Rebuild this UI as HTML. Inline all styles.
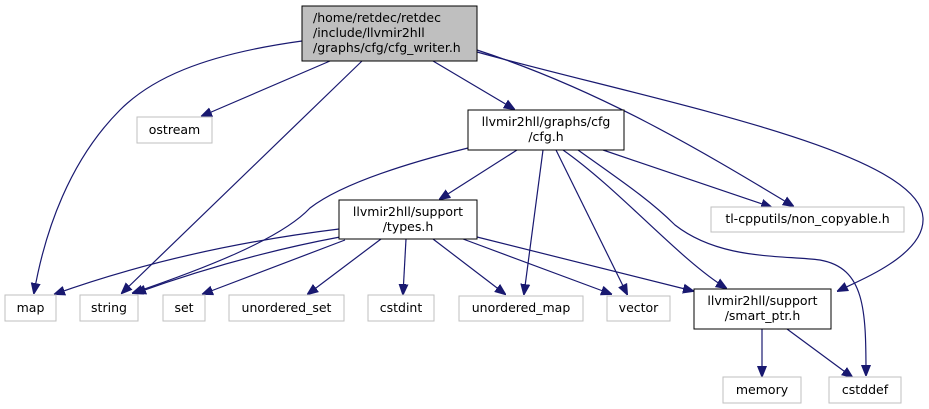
<!DOCTYPE html>
<html><head><meta charset="utf-8"><style>
html,body{margin:0;padding:0;background:#fff;}
svg{display:block;font-family:"DejaVu Sans","Liberation Sans",sans-serif;font-size:12.5px;}
.n{fill:#fff;stroke:#bfbfbf;stroke-width:1;}
.m{fill:#fff;stroke:#000;stroke-width:1;}
.e{fill:none;stroke:#191970;stroke-width:1.2;}
</style></head><body>
<svg width="929" height="409" viewBox="0 0 929 409">
<defs><marker id="a" viewBox="0 0 10 10" refX="9" refY="5" markerWidth="11" markerHeight="11" markerUnits="userSpaceOnUse" orient="auto"><path d="M0,1 L10,5 L0,9 z" fill="#191970" stroke="#191970"/></marker></defs>
<g>
<path class="e" marker-end="url(#a)" d="M302,41 C200,55 150,80 120,110 C70,160 45,230 34,293"/>
<path class="e" marker-end="url(#a)" d="M330,61 L202,116"/>
<path class="e" marker-end="url(#a)" d="M362,61 L122,293"/>
<path class="e" marker-end="url(#a)" d="M433,61 L514,109"/>
<path class="e" marker-end="url(#a)" d="M477,50 C600,90 700,150 793,206"/>
<path class="e" marker-end="url(#a)" d="M477,52 C650,100 920,150 923,218 C925,255 860,280 838,291"/>
<path class="e" marker-end="url(#a)" d="M517,150 L440,199"/>
<path class="e" marker-end="url(#a)" d="M468,148 C400,165 340,185 310,208 C280,240 200,270 133,293"/>
<path class="e" marker-end="url(#a)" d="M543,150 L524,294"/>
<path class="e" marker-end="url(#a)" d="M556,150 L627,294"/>
<path class="e" marker-end="url(#a)" d="M563,150 C620,190 680,260 726,288"/>
<path class="e" marker-end="url(#a)" d="M603,150 L771,207"/>
<path class="e" marker-end="url(#a)" d="M578,150 C620,180 650,200 675,225 C720,260 780,255 820,260 C865,268 866,310 866,375"/>
<path class="e" marker-end="url(#a)" d="M339,229 C250,240 150,260 55,294"/>
<path class="e" marker-end="url(#a)" d="M340,237 C270,250 200,270 136,293"/>
<path class="e" marker-end="url(#a)" d="M345,240 L203,294"/>
<path class="e" marker-end="url(#a)" d="M381,239 L308,294"/>
<path class="e" marker-end="url(#a)" d="M406,239 L403,294"/>
<path class="e" marker-end="url(#a)" d="M433,239 L505,294"/>
<path class="e" marker-end="url(#a)" d="M463,239 L611,294"/>
<path class="e" marker-end="url(#a)" d="M477,237 L693,291"/>
<path class="e" marker-end="url(#a)" d="M762,329 L762,376"/>
<path class="e" marker-end="url(#a)" d="M787,329 L852,377"/>
</g>
<g><rect x="302" y="6" width="175" height="55" fill="#bfbfbf" stroke="#000"/>
<text x="313" y="22">/home/retdec/retdec</text><text x="313" y="37">/include/llvmir2hll</text><text x="313" y="52">/graphs/cfg/cfg_writer.h</text></g>
<g><rect class="n" x="137" y="117" width="75" height="26"/><text x="174.5" y="134" text-anchor="middle">ostream</text></g>
<g><rect class="m" x="468" y="110" width="156" height="40"/><text x="546" y="126" text-anchor="middle">llvmir2hll/graphs/cfg</text><text x="546" y="141" text-anchor="middle">/cfg.h</text></g>
<g><rect class="m" x="339" y="200" width="138" height="39"/><text x="408" y="216" text-anchor="middle">llvmir2hll/support</text><text x="408" y="231" text-anchor="middle">/types.h</text></g>
<g><rect class="n" x="711" y="207" width="193" height="25"/><text x="807.5" y="223" text-anchor="middle">tl-cpputils/non_copyable.h</text></g>
<g><rect class="n" x="5" y="295" width="51" height="26"/><text x="30.5" y="312" text-anchor="middle">map</text></g>
<g><rect class="n" x="80" y="295" width="58" height="26"/><text x="109" y="312" text-anchor="middle">string</text></g>
<g><rect class="n" x="163" y="295" width="42" height="26"/><text x="184" y="312" text-anchor="middle">set</text></g>
<g><rect class="n" x="229" y="295" width="115" height="26"/><text x="286.5" y="312" text-anchor="middle">unordered_set</text></g>
<g><rect class="n" x="368" y="295" width="66" height="26"/><text x="401" y="312" text-anchor="middle">cstdint</text></g>
<g><rect class="n" x="459" y="296" width="124" height="25"/><text x="521" y="312" text-anchor="middle">unordered_map</text></g>
<g><rect class="n" x="607" y="296" width="63" height="25"/><text x="638.5" y="312" text-anchor="middle">vector</text></g>
<g><rect class="m" x="694" y="289" width="137" height="40"/><text x="762.5" y="305" text-anchor="middle">llvmir2hll/support</text><text x="762.5" y="320" text-anchor="middle">/smart_ptr.h</text></g>
<g><rect class="n" x="723" y="377" width="78" height="26"/><text x="762" y="394" text-anchor="middle">memory</text></g>
<g><rect class="n" x="829" y="377" width="72" height="26"/><text x="865" y="394" text-anchor="middle">cstddef</text></g>
</svg>
</body></html>
